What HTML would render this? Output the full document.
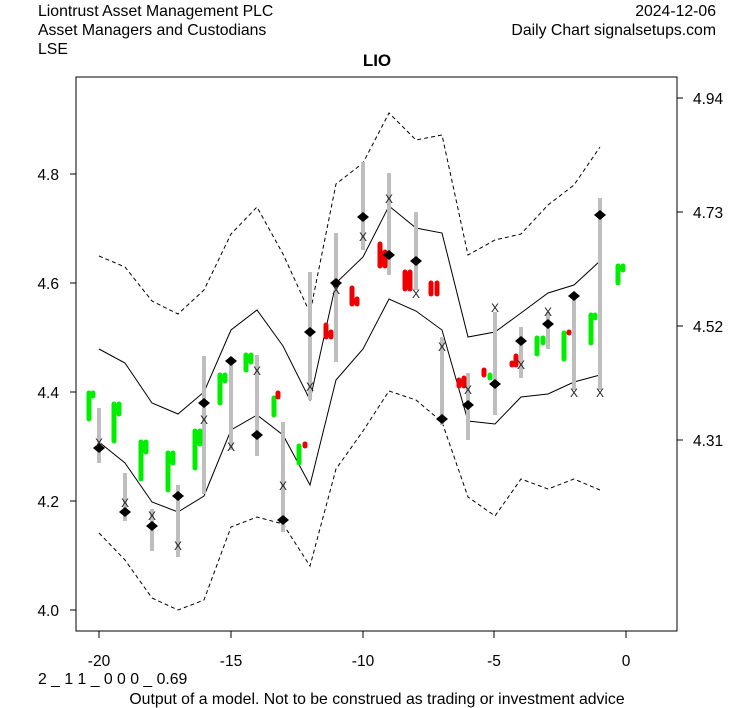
<!DOCTYPE html>
<html><head><meta charset="utf-8"><style>
body{margin:0;background:#fff}
svg{display:block;font-family:"Liberation Sans",Arial,sans-serif}
</style></head><body>
<svg width="753" height="708" viewBox="0 0 753 708" xmlns="http://www.w3.org/2000/svg">
<rect width="753" height="708" fill="#fff"/>
<g font-size="15.8" fill="#000">
<text x="38" y="16">Liontrust Asset Management PLC</text>
<text x="38" y="35">Asset Managers and Custodians</text>
<text x="38" y="54">LSE</text>
<text x="716" y="16" text-anchor="end">2024-12-06</text>
<text x="716" y="35" text-anchor="end">Daily Chart signalsetups.com</text>
<text x="377" y="66" text-anchor="middle" font-weight="bold" font-size="17">LIO</text>
<text x="38" y="684">2 _ 1 1 _ 0 0 0 _ 0.69</text>
<text x="377" y="704" text-anchor="middle">Output of a model. Not to be construed as trading or investment advice</text>
</g>
<rect x="76" y="77" width="601" height="554" fill="none" stroke="#000" stroke-width="1"/>
<g stroke="#000">
<line x1="70" y1="610" x2="76" y2="610"/><line x1="70" y1="501" x2="76" y2="501"/><line x1="70" y1="392" x2="76" y2="392"/><line x1="70" y1="283" x2="76" y2="283"/><line x1="70" y1="174" x2="76" y2="174"/>
<line x1="677" y1="98" x2="683" y2="98"/><line x1="677" y1="212" x2="683" y2="212"/><line x1="677" y1="326" x2="683" y2="326"/><line x1="677" y1="440" x2="683" y2="440"/>
<line x1="99" y1="631" x2="99" y2="638"/><line x1="231" y1="631" x2="231" y2="638"/><line x1="363" y1="631" x2="363" y2="638"/><line x1="494" y1="631" x2="494" y2="638"/><line x1="626" y1="631" x2="626" y2="638"/>
</g>
<g font-size="15.5" text-anchor="end">
<text x="59" y="616">4.0</text><text x="59" y="507">4.2</text><text x="59" y="398">4.4</text><text x="59" y="289">4.6</text><text x="59" y="180">4.8</text>
</g>
<g font-size="15.5">
<text x="693" y="104">4.94</text><text x="693" y="218">4.73</text><text x="693" y="332">4.52</text><text x="693" y="446">4.31</text>
</g>
<g font-size="15.5" text-anchor="middle">
<text x="99" y="666">-20</text><text x="231" y="666">-15</text><text x="363" y="666">-10</text><text x="494" y="666">-5</text><text x="626" y="666">0</text>
</g>
<g fill="none" stroke="#000" stroke-width="1">
<polyline points="99,349 125,363 152,403 178,414 204,392 231,330 257,310 283,346 310,400 336,283 363,257 389,206 416,228 442,233 468,337 495,332 521,313 548,293 574,285 600,261"/>
<polyline points="99,442 125,463 152,502 178,512 204,496 231,430 257,415 283,435 310,485 336,380 363,349 389,299 416,311 442,330 468,421 495,424 521,397 548,394 574,382 600,375"/>
<polyline stroke-dasharray="4,3" points="99,256 125,267 152,301 178,314 204,290 231,234 257,207 283,254 310,313 336,184 363,163 389,113 416,140 442,135 468,255 495,240 521,234 548,205 574,185 600,147"/>
<polyline stroke-dasharray="4,3" points="99,533 125,560 152,598 178,610 204,600 231,527 257,517 283,524 310,566 336,469 363,431 389,391 416,400 442,422 468,497 495,516 521,479 548,489 574,479 600,490"/>
</g>
<g stroke="#bebebe" stroke-width="4">
<line x1="99" y1="408" x2="99" y2="463"/><line x1="125" y1="473" x2="125" y2="521"/><line x1="152" y1="509" x2="152" y2="551"/><line x1="178" y1="485" x2="178" y2="557"/><line x1="204" y1="356" x2="204" y2="494"/><line x1="231" y1="362" x2="231" y2="450"/><line x1="257" y1="355" x2="257" y2="456"/><line x1="283" y1="422" x2="283" y2="532"/><line x1="310" y1="272" x2="310" y2="400"/><line x1="336" y1="233" x2="336" y2="362"/><line x1="363" y1="162" x2="363" y2="250"/><line x1="389" y1="173" x2="389" y2="275"/><line x1="416" y1="212" x2="416" y2="290"/><line x1="442" y1="337" x2="442" y2="425"/><line x1="468" y1="373" x2="468" y2="440"/><line x1="495" y1="312" x2="495" y2="415"/><line x1="521" y1="327" x2="521" y2="378"/><line x1="548" y1="312" x2="548" y2="349"/><line x1="574" y1="295" x2="574" y2="390"/><line x1="600" y1="198" x2="600" y2="390"/>
</g>
<g stroke-width="5" stroke-linecap="round" stroke="#00ee00">
<line x1="89" y1="393" x2="89" y2="419"/><line x1="93" y1="393" x2="93" y2="396"/>
<line x1="114" y1="404" x2="114" y2="441"/><line x1="119" y1="404" x2="119" y2="414"/>
<line x1="141" y1="442" x2="141" y2="479"/><line x1="146" y1="442" x2="146" y2="452"/>
<line x1="168" y1="453" x2="168" y2="490"/><line x1="173" y1="453" x2="173" y2="463"/>
<line x1="195" y1="431" x2="195" y2="468"/><line x1="200" y1="431" x2="200" y2="444"/>
<line x1="220" y1="375" x2="220" y2="403"/><line x1="225" y1="375" x2="225" y2="381"/>
<line x1="246" y1="355" x2="246" y2="370"/><line x1="251" y1="355" x2="251" y2="362"/>
<line x1="274" y1="398" x2="274" y2="415"/>
<line x1="299" y1="446" x2="299" y2="463"/>
<line x1="490" y1="375" x2="490" y2="378"/>
<line x1="537" y1="338" x2="537" y2="354"/><line x1="543" y1="338" x2="543" y2="343"/>
<line x1="564" y1="333" x2="564" y2="359"/>
<line x1="591" y1="315" x2="591" y2="343"/><line x1="595" y1="315" x2="595" y2="318"/>
<line x1="618" y1="266" x2="618" y2="283"/><line x1="623" y1="266" x2="623" y2="270"/>
</g>
<g stroke-width="5" stroke-linecap="round" stroke="#ee0000">
<line x1="278" y1="393" x2="278" y2="397"/>
<line x1="305" y1="444" x2="305" y2="446"/>
<line x1="326" y1="325" x2="326" y2="337"/><line x1="331" y1="332" x2="331" y2="337"/>
<line x1="352" y1="288" x2="352" y2="304"/><line x1="357" y1="299" x2="357" y2="304"/>
<line x1="380" y1="244" x2="380" y2="266"/><line x1="385" y1="252" x2="385" y2="266"/>
<line x1="405" y1="272" x2="405" y2="289"/><line x1="410" y1="272" x2="410" y2="289"/>
<line x1="431" y1="283" x2="431" y2="294"/><line x1="437" y1="283" x2="437" y2="294"/>
<line x1="459" y1="380" x2="459" y2="386"/><line x1="464" y1="378" x2="464" y2="386"/>
<line x1="484" y1="370" x2="484" y2="375"/>
<line x1="512" y1="363" x2="512" y2="365"/><line x1="516" y1="356" x2="516" y2="365"/>
<line x1="569" y1="332" x2="569" y2="333"/>
</g>
<g fill="#000">
<polygon points="93,448 99,443 105,448 99,453"/><polygon points="119,512 125,507 131,512 125,517"/><polygon points="146,526 152,521 158,526 152,531"/><polygon points="172,496 178,491 184,496 178,501"/><polygon points="198,403 204,398 210,403 204,408"/><polygon points="225,361 231,356 237,361 231,366"/><polygon points="251,435 257,430 263,435 257,440"/><polygon points="277,520 283,515 289,520 283,525"/><polygon points="304,332 310,327 316,332 310,337"/><polygon points="330,283 336,278 342,283 336,288"/><polygon points="357,217 363,212 369,217 363,222"/><polygon points="383,255 389,250 395,255 389,260"/><polygon points="410,261 416,256 422,261 416,266"/><polygon points="436,419 442,414 448,419 442,424"/><polygon points="462,405 468,400 474,405 468,410"/><polygon points="489,384 495,379 501,384 495,389"/><polygon points="515,341 521,336 527,341 521,346"/><polygon points="542,324 548,319 554,324 548,329"/><polygon points="568,296 574,291 580,296 574,301"/><polygon points="594,215 600,210 606,215 600,220"/>
</g>
<g font-size="12" fill="#222" text-anchor="middle">
<text x="99" y="447">X</text><text x="125" y="507">X</text><text x="152" y="520">X</text><text x="178" y="550">X</text><text x="204" y="424">X</text><text x="231" y="451">X</text><text x="257" y="375">X</text><text x="283" y="490">X</text><text x="310" y="391">X</text><text x="336" y="294">X</text><text x="363" y="241">X</text><text x="389" y="203">X</text><text x="416" y="298">X</text><text x="442" y="351">X</text><text x="468" y="394">X</text><text x="495" y="312">X</text><text x="521" y="369">X</text><text x="548" y="316">X</text><text x="574" y="397">X</text><text x="600" y="397">X</text>
</g>
</svg>
</body></html>
